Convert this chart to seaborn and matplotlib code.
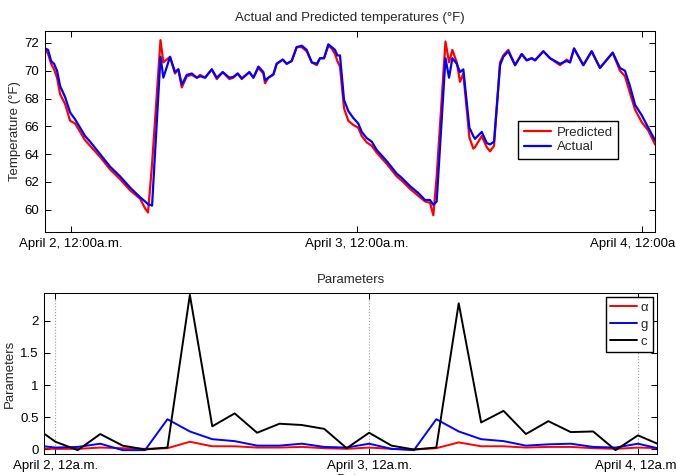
import pandas as pd
import matplotlib
matplotlib.use("Agg")
import matplotlib.pyplot as plt
import seaborn as sns

# top panel: hours from April 2, 00:00
hours = [-2.19, -1.93, -1.68, -1.43, -1.18, -0.92, -0.50, -0.08, 0.34, 0.76,
         1.18, 1.60, 2.44, 3.28, 4.12, 4.96, 5.80, 6.22, 6.47, 6.81,
         7.52, 7.76, 8.32, 8.74, 9.02, 9.31, 9.73, 10.15, 10.57, 10.85,
         11.27, 11.83, 12.25, 12.75, 13.31, 13.64, 14.01, 14.35, 14.99, 15.33,
         15.75, 16.17, 16.31, 16.59, 17.01, 17.29, 17.80, 18.13, 18.55, 18.97,
         19.40, 19.81, 20.24, 20.66, 20.93, 21.27, 21.63, 21.92, 22.19, 22.39,
         22.61, 22.95, 23.31, 23.73, 24.15, 24.44, 24.86, 25.28, 25.70, 26.54,
         27.38, 27.80, 28.50, 29.20, 29.76, 30.18, 30.46, 30.74, 31.48, 31.78,
         32.06, 32.43, 32.70, 32.98, 33.49, 33.82, 33.96, 34.53, 34.95, 35.23,
         35.56, 36.07, 36.34, 36.76, 37.33, 37.89, 38.31, 38.73, 39.01, 39.71,
         40.27, 41.11, 41.67, 41.95, 42.29, 43.07, 43.77, 44.47, 45.54, 46.15,
         46.57, 46.99, 47.42, 47.98, 48.53, 49.10]

actual = [71.6, 71.5, 70.7, 70.5, 70.0, 68.9, 68.1, 67.0, 66.5, 65.9,
          65.3, 64.9, 64.0, 63.1, 62.4, 61.6, 60.9, 60.6, 60.4, 60.3,
          71.0, 69.5, 71.0, 69.9, 70.1, 69.0, 69.7, 69.8, 69.5, 69.6,
          69.5, 70.1, 69.5, 69.9, 69.5, 69.55, 69.8, 69.45, 69.9, 69.5,
          70.3, 69.9, 69.3, 69.5, 69.75, 70.5, 70.8, 70.5, 70.7, 71.7,
          71.8, 71.5, 70.6, 70.5, 70.9, 70.9, 71.9, 71.7, 71.5, 71.1,
          71.1, 67.9, 67.1, 66.6, 66.2, 65.6, 65.15, 64.9, 64.3, 63.5,
          62.6, 62.3, 61.7, 61.2, 60.7, 60.7, 60.35, 60.6, 70.9, 69.5,
          70.9, 70.5, 69.9, 70.1, 65.9, 65.3, 65.1, 65.6, 64.8, 64.7,
          64.9, 70.4, 71.0, 71.4, 70.4, 71.2, 70.75, 70.9, 70.75, 71.4,
          70.9, 70.5, 70.7, 70.6, 71.6, 70.4, 71.4, 70.2, 71.3, 70.2,
          70.0, 68.9, 67.55, 66.8, 65.9, 65.0]

predicted = [71.6, 71.2, 70.5, 70.1, 69.5, 68.3, 67.6, 66.4, 66.2, 65.6,
             65.0, 64.6, 63.8, 62.9, 62.2, 61.4, 60.8, 60.1, 59.8, 63.3,
             72.2, 70.6, 71.0, 69.8, 70.1, 68.8, 69.6, 69.7, 69.5, 69.7,
             69.5, 70.1, 69.4, 69.9, 69.4, 69.5, 69.8, 69.4, 69.9, 69.5,
             70.2, 69.8, 69.1, 69.5, 69.7, 70.5, 70.8, 70.5, 70.7, 71.7,
             71.7, 71.4, 70.6, 70.4, 70.9, 70.9, 71.8, 71.6, 71.2, 70.7,
             70.3, 67.3, 66.4, 66.1, 65.9, 65.3, 64.85, 64.6, 64.1, 63.3,
             62.4, 62.1, 61.5, 61.0, 60.6, 60.5, 59.6, 62.4, 72.1, 70.6,
             71.5, 70.6, 69.2, 69.8, 65.2, 64.4, 64.5, 65.3, 64.5, 64.2,
             64.6, 70.6, 71.1, 71.5, 70.4, 71.2, 70.75, 70.9, 70.75, 71.4,
             70.9, 70.4, 70.8, 70.6, 71.6, 70.4, 71.4, 70.2, 71.3, 70.0,
             69.6, 68.4, 67.2, 66.3, 65.7, 64.7]

top_ticks = [0, 24, 48]
top_labels = ['April 2, 12:00a.m.', 'April 3, 12:00a.m.', 'April 4, 12:00a.m.']

# bottom panel: estimation windows
window = [-1, 0, 1, 2, 3, 4, 5, 6, 7, 8, 9, 10, 11, 12, 13, 14,
          15, 16, 17, 18, 19, 20, 21, 22, 23, 24, 25, 26, 27]
alpha_vals = [0.02, 0.01, 0.01, 0.03, 0.02, 0.01, 0.02, 0.12, 0.05, 0.05,
              0.03, 0.03, 0.04, 0.02, 0.01, 0.03, 0.01, 0.0, 0.02, 0.11,
              0.05, 0.05, 0.03, 0.04, 0.04, 0.02, 0.01, 0.03, 0.02]
g_vals = [0.07, 0.03, 0.04, 0.09, -0.01, -0.01, 0.47, 0.28, 0.16, 0.13,
          0.06, 0.06, 0.09, 0.04, 0.03, 0.09, 0.01, -0.01, 0.47, 0.28,
          0.16, 0.13, 0.06, 0.08, 0.09, 0.04, 0.03, 0.09, 0.01]
c_vals = [0.37, 0.12, -0.01, 0.24, 0.06, 0.0, 0.03, 2.40, 0.36, 0.56,
          0.26, 0.40, 0.38, 0.32, 0.02, 0.26, 0.06, 0.0, 0.03, 2.27,
          0.42, 0.60, 0.24, 0.44, 0.27, 0.28, -0.01, 0.22, 0.07]

bot_ticks = [0, 14, 26]
bot_labels = ['April 2, 12a.m.', 'April 3, 12a.m.', 'April 4, 12a.m.']

sns.set_style("ticks")
plt.rcParams['font.family'] = ['Liberation Sans', 'DejaVu Sans']
plt.rcParams['font.size'] = 9.5
plt.rcParams['axes.linewidth'] = 0.75

fig = plt.figure(figsize=(6.76, 4.75), dpi=100)
ax1 = fig.add_axes([0.0666, 0.5116, 0.9024, 0.4232])
ax2 = fig.add_axes([0.0651, 0.0442, 0.9068, 0.3390])

sns.lineplot(x=hours, y=predicted, color='#ff0000', lw=1.6, label='Predicted',
             estimator=None, sort=False, ax=ax1)
sns.lineplot(x=hours, y=actual, color='#0000ff', lw=1.6, label='Actual',
             estimator=None, sort=False, ax=ax1)
ax1.set_xlim(-2.19, 49.10)
ax1.set_ylim(58.4, 72.86)
ax1.set_xticks(top_ticks)
ax1.set_xticklabels(top_labels)
ax1.set_yticks([60, 62, 64, 66, 68, 70, 72])
ax1.set_ylabel('Temperature (°F)', labelpad=3)
ax1.set_title('Actual and Predicted temperatures (°F)', fontsize=9.5, pad=7)
ax1.legend(loc='upper left', bbox_to_anchor=(0.765, 0.585), fancybox=False,
           edgecolor='black', framealpha=1, borderpad=0.4, labelspacing=0.2,
           handlelength=2.1, handletextpad=0.4)

sns.lineplot(x=window, y=alpha_vals, color='#ff0000', lw=1.4, label='α',
             estimator=None, sort=False, ax=ax2)
sns.lineplot(x=window, y=g_vals, color='#0000ff', lw=1.4, label='g',
             estimator=None, sort=False, ax=ax2)
sns.lineplot(x=window, y=c_vals, color='black', lw=1.4, label='c',
             estimator=None, sort=False, ax=ax2)
ax2.set_xlim(-0.51, 26.85)
ax2.set_ylim(-0.07, 2.43)
ax2.set_xticks(bot_ticks)
ax2.set_xticklabels(bot_labels)
ax2.set_yticks([0, 0.5, 1, 1.5, 2])
ax2.set_yticklabels(['0', '0.5', '1', '1.5', '2'])
ax2.xaxis.grid(True, linestyle=':', color='#9a9a9a', lw=0.8)
ax2.set_ylabel('Parameters', labelpad=3)
ax2.set_xlabel('Date', labelpad=2)
ax2.set_title('Parameters', fontsize=9.5, pad=7)
ax2.legend(loc='upper right', borderaxespad=0.3, fancybox=False,
           edgecolor='black', framealpha=1, borderpad=0.35, labelspacing=0.35,
           handlelength=2.0, handletextpad=0.3)

for ax in (ax1, ax2):
    for sp in ax.spines.values():
        sp.set_visible(True)
        sp.set_color('black')
        sp.set_linewidth(0.75)
    ax.tick_params(direction='in', length=4, width=0.75, top=True, right=True,
                   colors='black', labelsize=9.5, pad=4)

fig.savefig('out.png', dpi=100)
